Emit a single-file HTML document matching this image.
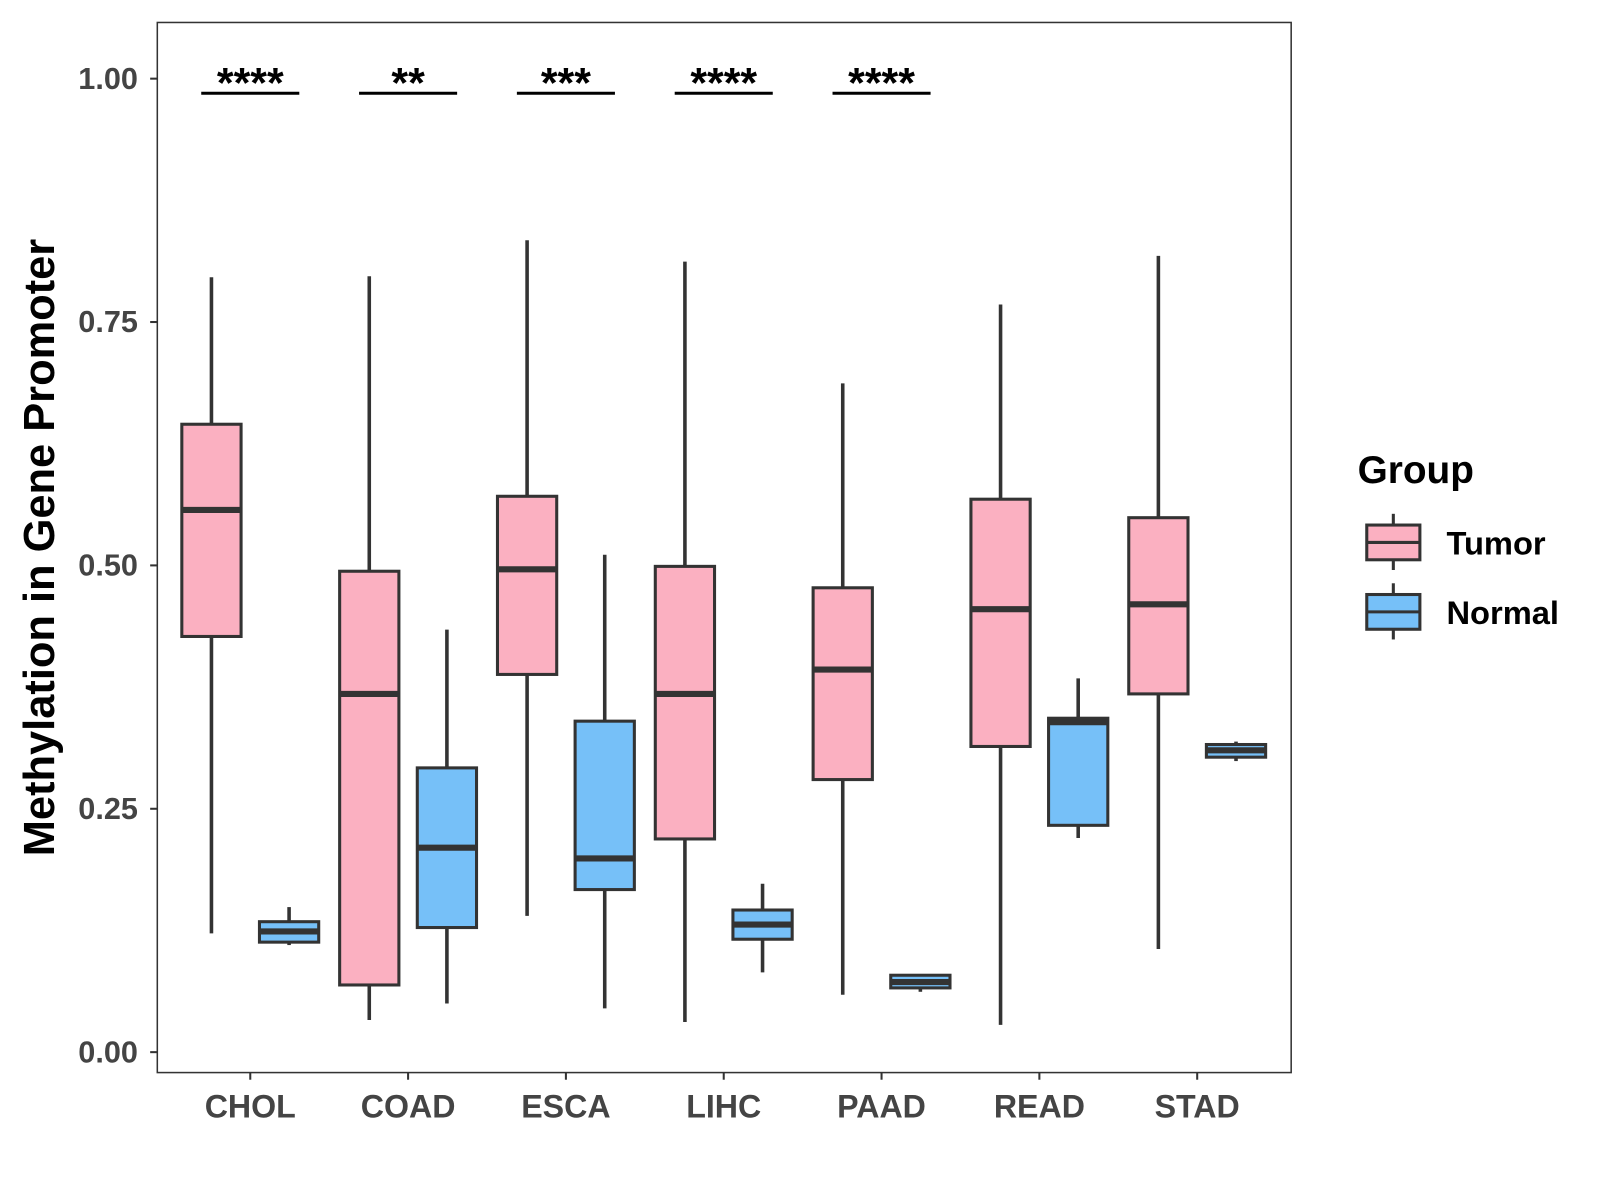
<!DOCTYPE html>
<html><head><meta charset="utf-8"><style>
html,body{margin:0;padding:0;background:#fff;}
svg{display:block;font-family:"Liberation Sans",Arial,sans-serif;font-weight:bold;}
</style></head><body>
<svg id="chart" width="1600" height="1200" viewBox="0 0 1600 1200" xmlns="http://www.w3.org/2000/svg">
<rect x="0" y="0" width="1600" height="1200" fill="#fff"/>
<g transform="scale(1.0215)">
<rect x="154" y="22" width="1110" height="1028" fill="#fff" stroke="#333" stroke-width="1.5"/>
<g id="axes"></g>
<g id="marks"></g>
<text transform="translate(53,536) rotate(-90)" text-anchor="middle" font-size="42.5" fill="#000">Methylation in Gene Promoter</text>
<g>
<text x="1329" y="473" font-size="38" fill="#000">Group</text>
<g>
<line x1="1364" y1="503" x2="1364" y2="558" stroke="#333" stroke-width="3"/>
<rect x="1338" y="514" width="52" height="34" fill="#FBB0C1" stroke="#333" stroke-width="3"/>
<line x1="1338" y1="531" x2="1390" y2="531" stroke="#333" stroke-width="3"/>
<text x="1416" y="543" font-size="32" fill="#000">Tumor</text>
</g>
<g>
<line x1="1364" y1="571" x2="1364" y2="626" stroke="#333" stroke-width="3"/>
<rect x="1338" y="582" width="52" height="34" fill="#76C0F8" stroke="#333" stroke-width="3"/>
<line x1="1338" y1="599" x2="1390" y2="599" stroke="#333" stroke-width="3"/>
<text x="1416" y="611" font-size="32" fill="#000">Normal</text>
</g>
</g>
</g>
</svg>
<script>
const categories = ["CHOL","COAD","ESCA","LIHC","PAAD","READ","STAD"];
// [low, q1, median, q3, high]
const tumorStats = [
 [0.122,0.427,0.557,0.645,0.796],
 [0.033,0.069,0.368,0.494,0.797],
 [0.140,0.388,0.496,0.571,0.834],
 [0.031,0.219,0.368,0.499,0.812],
 [0.059,0.280,0.393,0.477,0.687],
 [0.028,0.314,0.455,0.568,0.768],
 [0.106,0.368,0.460,0.549,0.818]
];
const normalStats = [
 [0.110,0.113,0.124,0.134,0.149],
 [0.050,0.128,0.210,0.292,0.434],
 [0.045,0.167,0.199,0.340,0.511],
 [0.082,0.116,0.131,0.146,0.173],
 [0.062,0.066,0.072,0.079,0.080],
 [0.220,0.233,0.339,0.343,0.384],
 [0.299,0.303,0.310,0.316,0.319]
];
const signifLabels = ["****","**","***","****","****","",""];
const yTicks = [0,0.25,0.5,0.75,1.0];
const yTickLabels = ["0.00","0.25","0.50","0.75","1.00"];
const signifY = 0.985;

const NS="http://www.w3.org/2000/svg";
const yScale = v => 1030 - v*953;
const xScale = i => 245 + i*154.5;
function mk(tag, attrs, parent){const e=document.createElementNS(NS,tag);for(const k in attrs)e.setAttribute(k,attrs[k]);parent.appendChild(e);return e;}
const axes=document.getElementById('axes'), marks=document.getElementById('marks');

yTicks.forEach((t,i)=>{
 const y=yScale(t);
 const tk=mk('line',{x1:147,x2:154,y1:y,y2:y,stroke:'#333','stroke-width':2},axes);
 
 
 const tx=mk('text',{x:135,y:y+10,'text-anchor':'end','font-size':30,fill:'#444'},axes);
 tx.textContent=yTickLabels[i];
 
 
});
categories.forEach((c,i)=>{
 const x=xScale(i);
 const tk=mk('line',{x1:x,x2:x,y1:1050,y2:1057,stroke:'#333','stroke-width':2},axes);
 
 
 const tx=mk('text',{x:x,y:1094,'text-anchor':'middle','font-size':31.5,fill:'#444'},axes);
 tx.textContent=c;
 
 
});

function box(s, cx, fill, name){
 const g=mk('g',{},marks);
 
 
 mk('line',{x1:cx,x2:cx,y1:yScale(s[0]),y2:yScale(s[4]),stroke:'#333','stroke-width':3.5},g);
 mk('rect',{x:cx-29,y:yScale(s[3]),width:58,height:Math.max(yScale(s[1])-yScale(s[3]),1),fill:fill,stroke:'#333','stroke-width':3},g);
 mk('line',{x1:cx-29,x2:cx+29,y1:yScale(s[2]),y2:yScale(s[2]),stroke:'#333','stroke-width':6},g);
}
categories.forEach((c,i)=>{
 const x=xScale(i);
 box(tumorStats[i], x-38, '#FBB0C1', 'box-tumor-'+c.toLowerCase());
 box(normalStats[i], x+38, '#76C0F8', 'box-normal-'+c.toLowerCase());
 if(signifLabels[i]){
  const y=yScale(signifY);
  const l=mk('line',{x1:x-48,x2:x+48,y1:y,y2:y,stroke:'#000','stroke-width':3},marks);
  
  
  const t=mk('text',{x:x,y:y+4,'text-anchor':'middle','font-size':42,fill:'#000'},marks);
  t.textContent=signifLabels[i];
  
  
 }
});
</script>
</body></html>
